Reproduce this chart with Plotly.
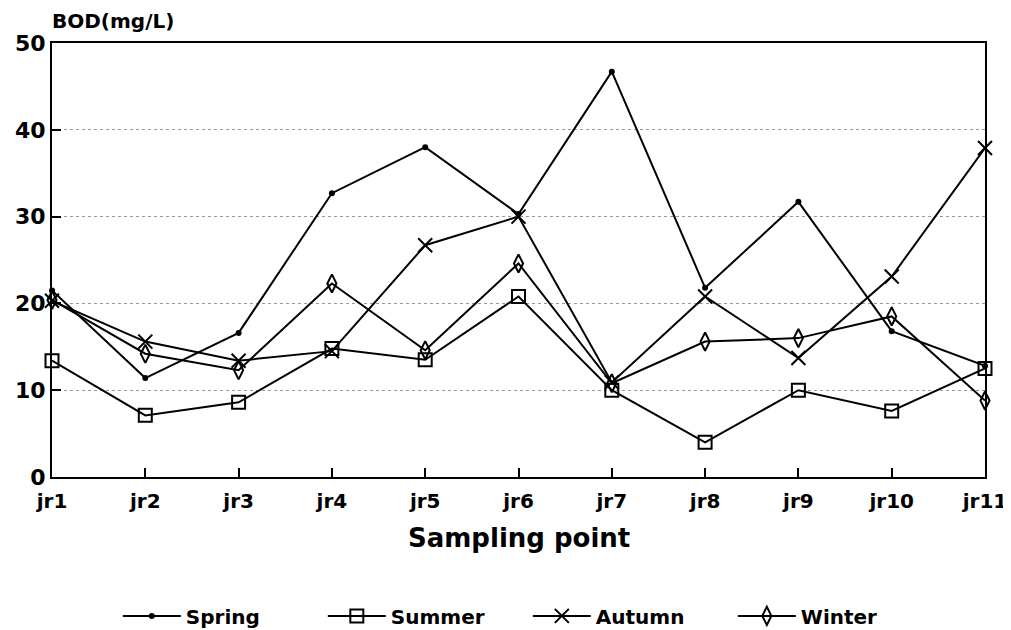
import plotly.graph_objects as go

categories = ["jr1", "jr2", "jr3", "jr4", "jr5", "jr6", "jr7", "jr8", "jr9", "jr10", "jr11"]
spring = [21.5, 11.4, 16.6, 32.7, 38.0, 30.3, 46.7, 21.8, 31.7, 16.8, 12.8]
summer = [13.4, 7.1, 8.6, 14.8, 13.5, 20.8, 10.0, 4.0, 10.0, 7.6, 12.5]
autumn = [20.3, 15.6, 13.4, 14.5, 26.7, 30.0, 10.9, 20.8, 13.7, 23.1, 37.9]
winter = [20.4, 14.2, 12.3, 22.3, 14.6, 24.6, 10.8, 15.6, 16.0, 18.5, 8.8]
y_ticks = [0, 10, 20, 30, 40, 50]

FONT = "DejaVu Sans"

fig = go.Figure()
series = [
    ("Spring", spring, dict(symbol="circle", size=6, color="black")),
    ("Summer", summer, dict(symbol="square-open", size=13, color="black", line=dict(width=2))),
    ("Autumn", autumn, dict(symbol="x-thin-open", size=14, color="black", line=dict(width=2))),
    ("Winter", winter, dict(symbol="diamond-tall-open", size=13, color="black", line=dict(width=2))),
]
for name, vals, mk in series:
    fig.add_trace(go.Scatter(
        x=categories, y=vals, name=name, mode="lines+markers",
        line=dict(color="black", width=2), marker=mk, cliponaxis=False,
    ))

# page body has an 8px default margin; figure is sized/offset to compensate
fig.update_layout(
    width=1003, height=622,
    margin=dict(l=44, r=26, t=35, b=153, autoexpand=False),
    plot_bgcolor="white", paper_bgcolor="white",
    font=dict(family=FONT, color="black"),
    showlegend=True,
    legend=dict(orientation="h", x=0.510, xanchor="center", y=-0.320, yanchor="middle",
                font=dict(size=20, family=FONT, weight="bold"), itemwidth=58,
                traceorder="normal", entrywidthmode="pixels", entrywidth=132),
    annotations=[
        dict(text="Sampling point", x=0.5, y=-0.140, xref="paper", yref="paper",
             xanchor="center", yanchor="middle", showarrow=False,
             font=dict(size=26, family=FONT, weight="bold")),
        dict(text="BOD(mg/L)", x=-0.002, y=1.051, xref="paper", yref="paper",
             xanchor="left", yanchor="middle", showarrow=False,
             font=dict(size=20, family=FONT, weight="bold")),
    ],
)
fig.update_xaxes(
    type="category", range=[0, 10], showline=True, linecolor="black", linewidth=2,
    mirror=True, ticks="inside", ticklen=9, tickwidth=2, tickcolor="black",
    showgrid=False, automargin=False, ticklabelstandoff=5,
    tickfont=dict(size=20, family=FONT, weight="bold"),
)
fig.update_yaxes(
    range=[0, 50], tickvals=y_ticks, showline=True, linecolor="black", linewidth=2,
    mirror=True, ticks="inside", ticklen=9, tickwidth=2, tickcolor="black",
    showgrid=True, gridcolor="#999999", griddash="dot", gridwidth=1,
    zeroline=False, automargin=False, tickfont=dict(size=22, family=FONT, weight="bold"),
)

fig.write_html("out.html")
